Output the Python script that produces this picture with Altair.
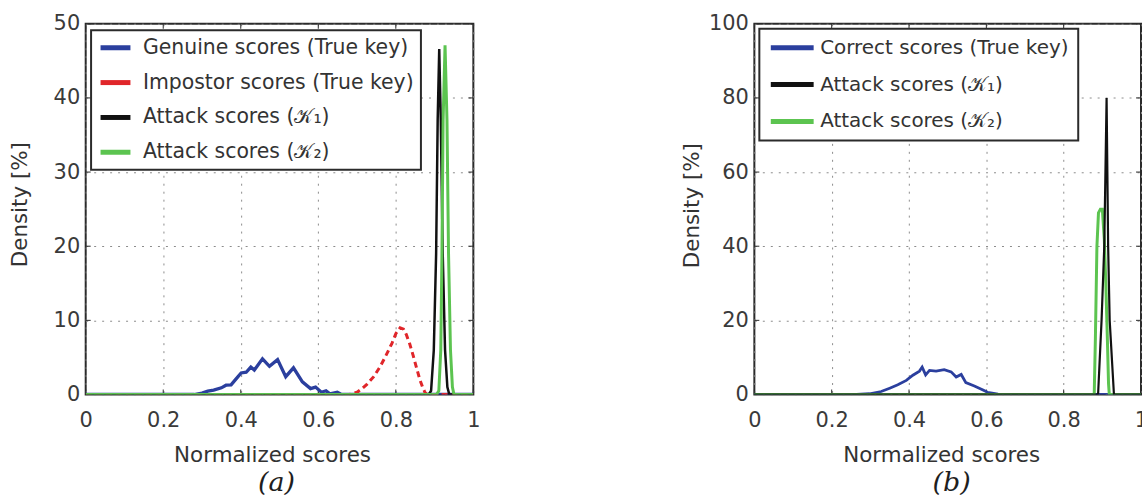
import altair as alt
import pandas as pd

# Shared horizontal axis (normalized scores)
x_ticks = [0, 0.2, 0.4, 0.6, 0.8, 1]

# ---------- Panel (a): densities in % ----------
genuine_x = [0, 0.28, 0.30, 0.315, 0.33, 0.35, 0.362, 0.375, 0.388, 0.401, 0.414, 0.426, 0.435,
             0.456, 0.474, 0.495, 0.516, 0.536, 0.559, 0.58, 0.593, 0.608, 0.62, 0.63, 0.649, 0.66, 1]
genuine_y = [0, 0, 0.2, 0.45, 0.6, 0.9, 1.25, 1.3, 2.1, 2.9, 3.0, 3.7, 3.3,
             4.8, 3.8, 4.7, 2.4, 3.6, 1.7, 0.8, 1.0, 0.3, 0.5, 0.1, 0.3, 0, 0]

impostor_x = [0, 0.68, 0.70, 0.713, 0.726, 0.743, 0.76, 0.775, 0.79, 0.80, 0.811, 0.82, 0.827,
              0.836, 0.845, 0.854, 0.862, 0.869, 0.875, 0.88, 1]
impostor_y = [0, 0, 0.3, 0.8, 1.4, 2.4, 3.8, 5.3, 6.9, 8.2, 9.0, 8.8, 8.1,
              6.8, 5.2, 3.5, 2.0, 1.0, 0.3, 0, 0]

attack1_a_x = [0, 0.885, 0.891, 0.898, 0.904, 0.908, 0.912, 0.916, 0.921, 0.927, 0.933, 0.938, 1]
attack1_a_y = [0, 0, 0.5, 6, 19, 37, 46.6, 37, 19, 6, 1, 0, 0]

attack2_a_x = [0, 0.905, 0.911, 0.916, 0.919, 0.922, 0.927, 0.932, 0.936, 0.941, 0.946, 0.95, 1]
attack2_a_y = [0, 0, 0.5, 6, 19, 37, 47.1, 37, 19, 6, 1, 0, 0]

y_ticks_a = [0, 10, 20, 30, 40, 50]

# ---------- Panel (b): densities in % ----------
correct_x = [0, 0.264, 0.298, 0.328, 0.35, 0.371, 0.393, 0.41, 0.427, 0.434, 0.443, 0.453, 0.47,
             0.491, 0.509, 0.522, 0.535, 0.547, 0.569, 0.59, 0.603, 0.615, 0.63, 0.65, 1]
correct_y = [0, 0, 0.2, 0.8, 1.7, 2.6, 3.8, 5.2, 6.3, 7.4, 5.3, 6.5, 6.3,
             6.7, 6.1, 4.7, 5.4, 3.2, 2.3, 1.3, 0.6, 0.4, 0.1, 0, 0]

attack1_b_x = [0, 0.885, 0.889, 0.898, 0.905, 0.908, 0.911, 0.913, 0.915, 0.919, 0.93, 1]
attack1_b_y = [0, 0, 0, 20, 40, 60, 80, 60, 40, 20, 0, 0]

attack2_b_x = [0, 0.879, 0.882, 0.886, 0.89, 0.895, 0.90, 0.905, 0.909, 0.913, 0.916, 0.918, 1]
attack2_b_y = [0, 0, 15, 40, 49, 50, 50, 42, 30, 15, 3, 0, 0]

y_ticks_b = [0, 20, 40, 60, 80, 100]

# Series names
GENUINE = "Genuine scores (True key)"
IMPOSTOR = "Impostor scores (True key)"
CORRECT = "Correct scores (True key)"
ATTACK1 = "Attack scores (\U0001D4A6\u2081)"
ATTACK2 = "Attack scores (\U0001D4A6\u2082)"

BLUE = "#2b3f9e"
RED = "#e0262a"
BLACK = "#111111"
GREEN = "#5cc450"
FRAME = "#2b2b2b"

H = 372
TICK_LEN = 5


def panel(series, draw_order, y_ticks, width, legend, y_title_x, y_title_y,
          x_title_x, caption, caption_dx):
    names = [s[0] for s in series]
    colors = [s[3] for s in series]
    color_scale = alt.Scale(domain=names, range=colors)
    xs = alt.Scale(domain=[0, 1], nice=False, zero=False)
    ys = alt.Scale(domain=[y_ticks[0], y_ticks[-1]], nice=False)
    x_axis = alt.Axis(values=x_ticks, format="~g", title="Normalized scores",
                      titleX=x_title_x, titleY=50, labelFlush=False)
    y_axis = alt.Axis(values=y_ticks, format="d", title="Density [%]",
                      titleX=y_title_x, titleY=y_title_y, labelFlush=False)

    xt = pd.DataFrame({"x": x_ticks})
    yt = pd.DataFrame({"y": y_ticks})
    layers = [
        # inward tick marks on all four sides of the box
        alt.Chart(xt).mark_rule(color=FRAME, strokeWidth=1).encode(
            x=alt.X("x:Q", scale=xs, axis=x_axis), y=alt.value(H), y2=alt.value(H - TICK_LEN)),
        alt.Chart(xt).mark_rule(color=FRAME, strokeWidth=1).encode(
            x=alt.X("x:Q", scale=xs, axis=x_axis), y=alt.value(0), y2=alt.value(TICK_LEN)),
        alt.Chart(yt).mark_rule(color=FRAME, strokeWidth=1).encode(
            y=alt.Y("y:Q", scale=ys, axis=y_axis), x=alt.value(0), x2=alt.value(TICK_LEN)),
        alt.Chart(yt).mark_rule(color=FRAME, strokeWidth=1).encode(
            y=alt.Y("y:Q", scale=ys, axis=y_axis), x=alt.value(width), x2=alt.value(width - TICK_LEN)),
    ]
    for i in draw_order:
        name, xv, yv, _col, sw, dash = series[i]
        df = pd.DataFrame({"x": xv, "y": yv, "series": name})
        mk = dict(strokeWidth=sw, clip=True)
        if dash:
            mk["strokeDash"] = dash
        layers.append(
            alt.Chart(df).mark_line(**mk).encode(
                x=alt.X("x:Q", scale=xs, axis=x_axis),
                y=alt.Y("y:Q", scale=ys, axis=y_axis),
                color=alt.Color("series:N", scale=color_scale, legend=legend, sort=names),
            )
        )
    return alt.layer(*layers).properties(
        width=width,
        height=H,
        title=alt.TitleParams(
            text=caption, orient="bottom", anchor="middle", frame="group",
            font="DejaVu Serif", fontStyle="italic", fontSize=27, fontWeight="normal",
            color="#1e1e1e", offset=4, dx=caption_dx,
        ),
    )


legend_a = alt.Legend(
    title=None, orient="none", legendX=5.4, legendY=6.5, symbolType="stroke",
    symbolSize=900, symbolStrokeWidth=5, clipHeight=21, labelFont="DejaVu Sans",
    labelFontSize=20.5, labelColor="#333333", labelLimit=500, rowPadding=14, padding=7,
    labelOffset=10, fillColor="white", strokeColor=FRAME,
)
legend_b = alt.Legend(
    title=None, orient="none", legendX=5, legendY=5, symbolType="stroke",
    symbolSize=1849, symbolStrokeWidth=5, clipHeight=20, labelFont="DejaVu Sans",
    labelFontSize=20, labelColor="#333333", labelLimit=500, rowPadding=17, padding=9,
    labelOffset=4, fillColor="white", strokeColor=FRAME,
)

series_a = [
    (GENUINE, genuine_x, genuine_y, BLUE, 3.3, None),
    (IMPOSTOR, impostor_x, impostor_y, RED, 3, [6, 4]),
    (ATTACK1, attack1_a_x, attack1_a_y, BLACK, 2.5, None),
    (ATTACK2, attack2_a_x, attack2_a_y, GREEN, 3, None),
]
series_b = [
    (CORRECT, correct_x, correct_y, BLUE, 2.8, None),
    (ATTACK1, attack1_b_x, attack1_b_y, BLACK, 2.2, None),
    (ATTACK2, attack2_b_x, attack2_b_y, GREEN, 3, None),
]

left = panel(series_a, [0, 1, 2, 3], y_ticks_a, 389, legend_a,
             y_title_x=-54.3, y_title_y=181, x_title_x=187, caption="(a)", caption_dx=-3)
right = panel(series_b, [0, 2, 1], y_ticks_b, 388, legend_b,
              y_title_x=-51.3, y_title_y=182, x_title_x=187.5, caption="(b)", caption_dx=4)

chart = (
    alt.hconcat(left, right, spacing=199)
    .resolve_scale(color="independent")
    .resolve_legend(color="independent")
    .properties(padding={"left": 8, "top": 11, "right": -7, "bottom": 0}, background="white")
    .configure_view(stroke=FRAME, strokeWidth=2)
    .configure_axis(
        labelFont="DejaVu Sans", labelFontSize=21, labelColor="#3a3a3a",
        titleFont="DejaVu Sans", titleFontSize=21.5, titleFontWeight="normal", titleColor="#333333",
        grid=True, gridColor="#8c8c8c", gridDash=[2, 6], gridWidth=1,
        domain=False, ticks=False, tickSize=0,
    )
    .configure_axisX(labelPadding=15)
    .configure_axisY(labelPadding=6)
    .configure_legend(strokeWidth=2)
)

chart.save("out.html", embed_options={"renderer": "svg", "actions": False})
